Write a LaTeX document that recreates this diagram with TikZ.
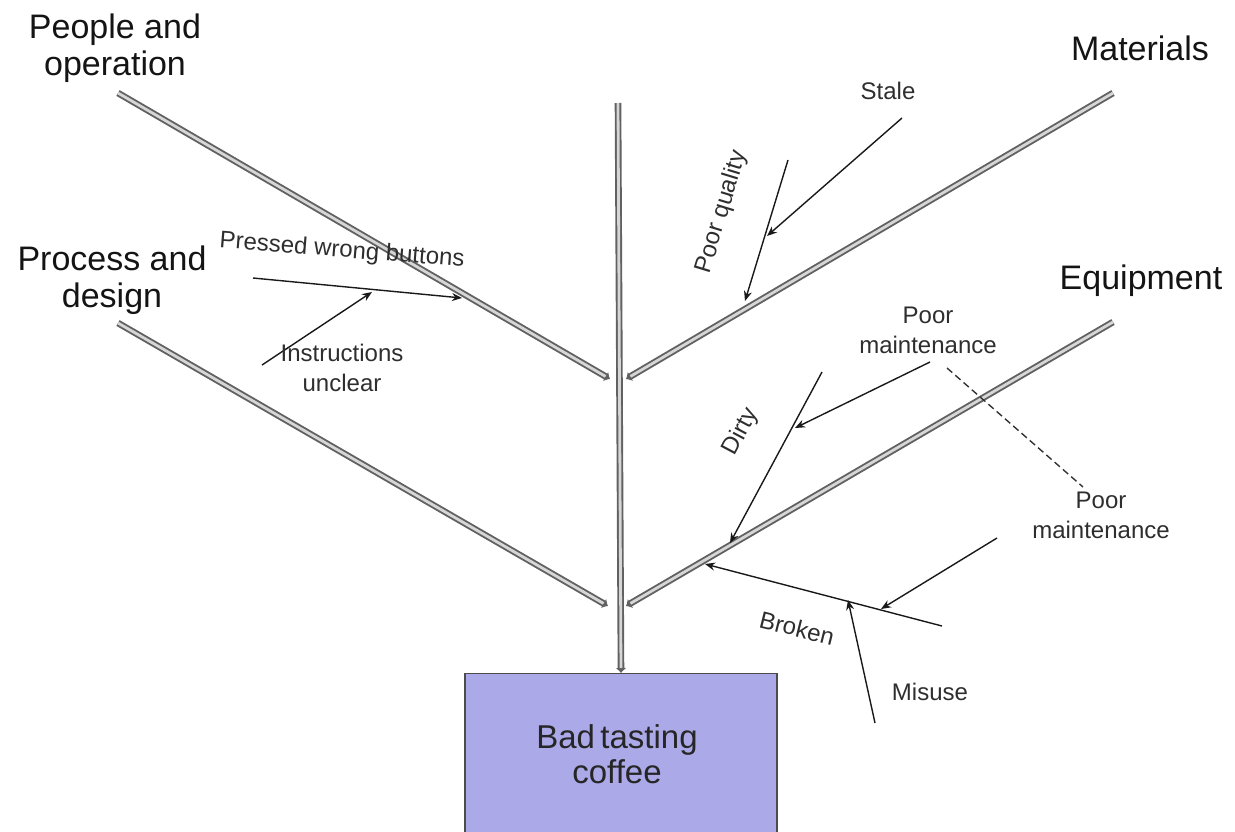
\documentclass[tikz,border=0pt]{standalone}
\usepackage{fontspec}
\setmainfont{Liberation Sans}
\usetikzlibrary{arrows.meta}
\begin{document}
\begin{tikzpicture}[x=1pt,y=-1pt,
  bone/.style={draw=black!62, line width=1.9pt, double=black!16, double distance=2.8pt,
    -{Latex[length=5pt,width=11pt]}},
  cause/.style={draw=black!90, line width=1.4pt, -{Stealth[length=10pt,width=8pt]}},
  catlabel/.style={font=\fontsize{34}{37}\selectfont, align=center, text=black!92},
  small/.style={font=\fontsize{24}{30}\selectfont, align=center, text=black!82},
  effectbox/.style={draw=black!70, line width=1.3pt, fill={rgb,255:red,171;green,169;blue,232},
    minimum width=312pt, minimum height=190pt, inner sep=0pt},
]
\useasboundingbox (0,0) rectangle (1235,831);

% effect box
\node[effectbox, anchor=north] (effect) at (621,673) {};
\node[font=\fontsize{33}{35}\selectfont, align=center, text=black!85] (effecttxt) at (617,754)
  {Bad\,tasting\\coffee};

% main spine
\coordinate (head) at (618,103);
\draw[bone] (head) -- (effect.north);

% category labels
\node[catlabel] (people) at (115,48) {People and\\operation};
\node[catlabel] (process) at (112,280) {Process and\\design};
\node[catlabel] (materials) at (1140,48) {Materials};
\node[catlabel] (equipment) at (1141,281) {Equipment};

% bones
\coordinate (pA) at (118,93);   \coordinate (pB) at (610,379);
\coordinate (mA) at (1113,93);  \coordinate (mB) at (626,379);
\coordinate (dA) at (118,323);  \coordinate (dB) at (608,606);
\coordinate (eA) at (1113,322); \coordinate (eB) at (626,606);
\draw[bone] (pA) -- (pB);
\draw[bone] (mA) -- (mB);
\draw[bone] (dA) -- (dB);
\draw[bone] (eA) -- (eB);

% people and operation causes
\coordinate (pw1) at (253,278); \coordinate (pw2) at (462,298);
\draw[cause] (pw1) -- (pw2);
\node[small, rotate=-4.5] (pressed) at (342,251) {Pressed wrong buttons};
\coordinate (iu1) at (262,365); \coordinate (iu2) at (372,292);
\draw[cause] (iu1) -- (iu2);
\node[small] (instr) at (342,368) {Instructions\\unclear};

% materials causes
\coordinate (pq1) at (788,160); \coordinate (pq2) at (745,301);
\draw[cause] (pq1) -- (pq2);
\node[small, rotate=73] (poorq) at (722,212) {Poor quality};
\node[small] (stale) at (888,91) {Stale};
\coordinate (st1) at (902,118); \coordinate (st2) at (767,236);
\draw[cause] (st1) -- (st2);

% equipment causes
\coordinate (dy1) at (822,372); \coordinate (dy2) at (730,543);
\draw[cause] (dy1) -- (dy2);
\node[small, rotate=62] (dirty) at (741,432) {Dirty};
\node[small] (pm1) at (928,330) {Poor\\maintenance};
\coordinate (pmA) at (930,362); \coordinate (pmB) at (795,428);
\draw[cause] (pmA) -- (pmB);
\coordinate (dsA) at (947,368); \coordinate (dsB) at (1083,487);
\draw[black!80, line width=1.4pt, dash pattern=on 7pt off 4pt] (dsA) -- (dsB);
\node[small] (pm2) at (1101,515) {Poor\\maintenance};

\coordinate (br1) at (942,626); \coordinate (br2) at (705,564);
\draw[cause] (br1) -- (br2);
\node[small, rotate=-14] (broken) at (797,628) {Broken};
\coordinate (bp1) at (997,538); \coordinate (bp2) at (881,609);
\draw[cause] (bp1) -- (bp2);
\coordinate (mu1) at (875,723); \coordinate (mu2) at (848,600);
\draw[cause] (mu1) -- (mu2);
\node[small] (misuse) at (930,692) {Misuse};
\end{tikzpicture}
\end{document}
